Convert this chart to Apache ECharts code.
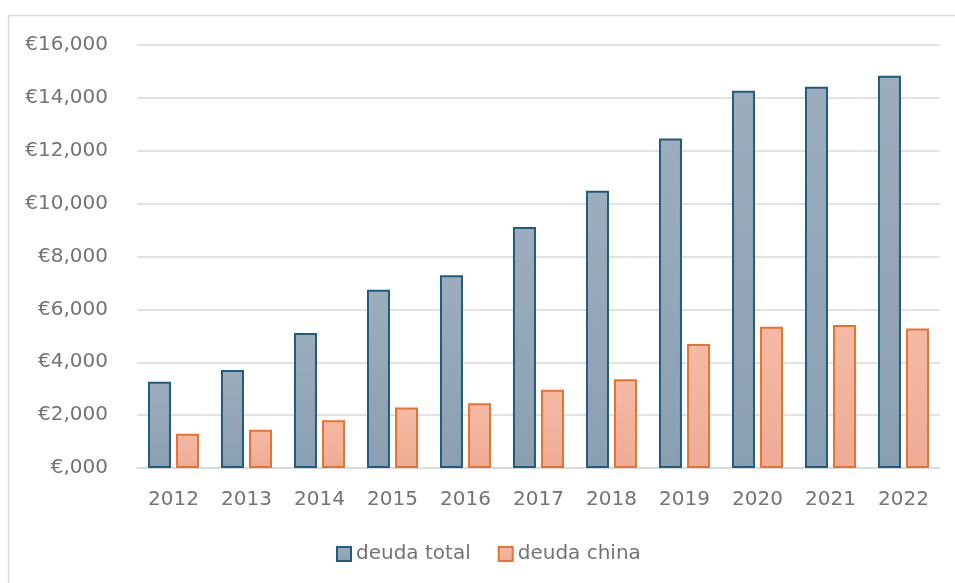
<!DOCTYPE html>
<html>
<head>
<meta charset="utf-8">
<script src="https://cdn.jsdelivr.net/npm/echarts@6/dist/echarts.min.js"></script>
<style>
html, body { margin: 0; padding: 0; background: #fff; overflow: hidden; }
#main { width: 955px; height: 583px; }
</style>
</head>
<body>
<div id="main"></div>
<script>
var years = ['2012', '2013', '2014', '2015', '2016', '2017', '2018', '2019', '2020', '2021', '2022'];
var deudaTotal = [3260, 3710, 5110, 6740, 7290, 9120, 10490, 12460, 14270, 14420, 14840];
var deudaChina = [1300, 1450, 1810, 2290, 2450, 2960, 3360, 4690, 5340, 5410, 5280];

var dom = document.getElementById('main');
var myChart = echarts.init(dom);

var fontName = '"DejaVu Sans", sans-serif';
var textGrey = '#737373';

function euro(v) {
	if (v === 0) return '€,000';
	return '€' + v.toLocaleString('en-US');
}

var option = {
	animation: false,
	textStyle: { fontFamily: fontName },
	graphic: [ {
		type: 'polyline',
		shape: { points: [ [8.5, 600], [8.5, 15.5], [960, 15.5] ] },
		style: { fill: 'none', stroke: '#d9d9d9', lineWidth: 1.5 },
		silent: true
	} ],
	grid: {
		left: 137,
		right: 15,
		top: 45,
		bottom: 115
	},
	legend: {
		top: 539,
		left: 331,
		itemWidth: 14,
		itemHeight: 14,
		itemGap: 27,
		icon: 'rect',
		textStyle: { color: textGrey, fontSize: 20, fontFamily: fontName },
		data: ['deuda total', 'deuda china']
	},
	xAxis: {
		type: 'category',
		data: years,
		axisTick: { show: false },
		axisLine: { lineStyle: { color: '#d9d9d9', width: 1.5 } },
		axisLabel: { color: textGrey, fontSize: 20, margin: 22 }
	},
	yAxis: {
		type: 'value',
		min: 0,
		max: 16000,
		interval: 2000,
		axisLine: { show: false },
		axisTick: { show: false },
		splitLine: { lineStyle: { color: '#d9d9d9', width: 1.5 } },
		axisLabel: { color: textGrey, fontSize: 20, margin: 29, formatter: euro }
	},
	series: [ {
		name: 'deuda total',
		type: 'bar',
		data: deudaTotal,
		barWidth: 23,
		barGap: '22%',
		itemStyle: {
			color: new echarts.graphic.LinearGradient(0, 0, 0, 1, [
				{ offset: 0, color: '#9caebe' },
				{ offset: 1, color: '#8a9fb1' }
			]),
			borderColor: '#1f5c80',
			borderWidth: 2
		}
	}, {
		name: 'deuda china',
		type: 'bar',
		data: deudaChina,
		barWidth: 23,
		itemStyle: {
			color: new echarts.graphic.LinearGradient(0, 0, 0, 1, [
				{ offset: 0, color: '#f5baa4' },
				{ offset: 1, color: '#eeab95' }
			]),
			borderColor: '#e97132',
			borderWidth: 2
		}
	} ]
};

myChart.setOption(option, true);
</script>
</body>
</html>
